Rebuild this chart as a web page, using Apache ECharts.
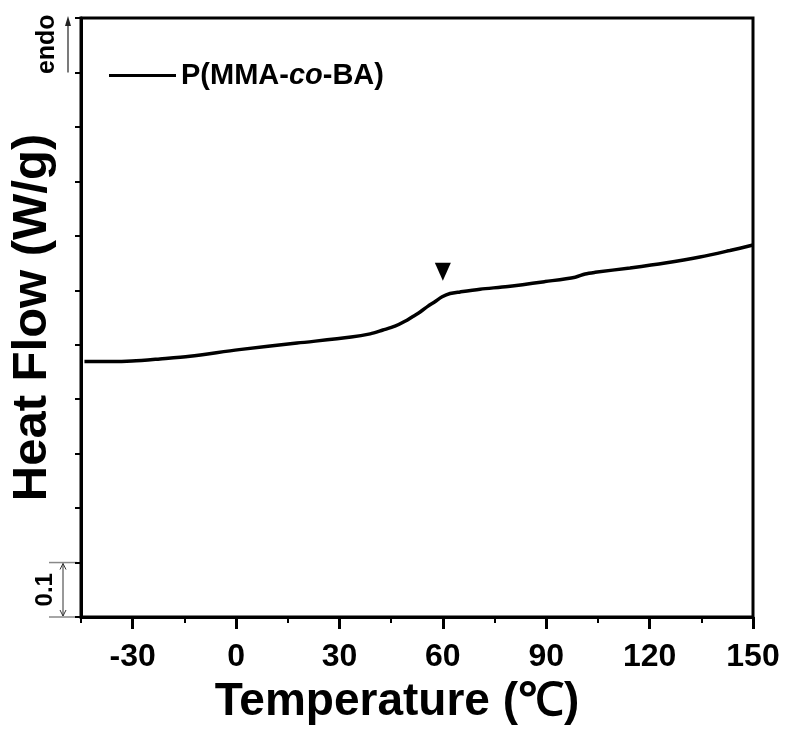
<!DOCTYPE html>
<html>
<head>
<meta charset="utf-8">
<script src="https://cdn.jsdelivr.net/npm/echarts@6/dist/echarts.min.js"></script>
<style>
  html, body { margin: 0; padding: 0; background: #fff; }
  #chart { width: 788px; height: 731px; }
</style>
</head>
<body>
<div id="chart"></div>
<script>
  // DSC trace: temperature (°C) and heat flow (W/g, arbitrary offset)
  const temps = [-44, -36.6, -30.2, -22.1, -13.4, 0.9, 17.7, 33.4, 38.9, 42.6, 46.1, 49.0,
    51.3, 53.4, 55.7, 57.7, 59.8, 62.1, 65.0, 70.8, 78.9, 89.7, 98.4, 101.3, 104.2,
    114.3, 124.5, 134.6, 143.3, 150];
  const heatFlow = [0.469, 0.469, 0.470, 0.474, 0.479, 0.491, 0.503, 0.514, 0.520, 0.527,
    0.534, 0.543, 0.552, 0.560, 0.571, 0.579, 0.588, 0.594, 0.597, 0.602, 0.607, 0.616,
    0.624, 0.630, 0.633, 0.641, 0.650, 0.661, 0.673, 0.683];

  // Tg marker (▼) position
  const tgMarker = [60, 0.634];

  const xLabelTicks = [-30, 0, 30, 60, 90, 120, 150];
  const seriesName = "P(MMA-co-BA)";

  // scale bar and endo arrow extents, in W/g
  const scaleBar = [0, 0.1];
  const endoArrow = [1.0, 1.1];

  const FONT = "'Liberation Sans', Arial, sans-serif";
  const chart = echarts.init(document.getElementById("chart"), null, { renderer: "canvas" });

  const xBase = {
    type: "value",
    min: -45,
    max: 150,
    splitLine: { show: false },
  };

  chart.setOption({
    backgroundColor: "#fff",
    animation: false,
    grid: {
      left: 81, right: 35, top: 18, bottom: 114,
      show: true, borderColor: "#000", borderWidth: 3,
    },
    legend: {
      left: 104,
      top: 56,
      icon: "rect",
      itemWidth: 67,
      itemHeight: 3,
      itemGap: 5,
      data: [seriesName],
      formatter: () => "{a|P(MMA-}{b|co}{a|-BA)}",
      textStyle: {
        rich: {
          a: { fontFamily: FONT, fontSize: 29, fontWeight: "bold", color: "#000" },
          b: { fontFamily: FONT, fontSize: 29, fontWeight: "bold", fontStyle: "italic", color: "#000" },
        },
      },
    },
    xAxis: [
      {
        ...xBase,
        interval: 15,
        axisLine: { show: true, onZero: false, lineStyle: { color: "#000", width: 3 } },
        axisTick: { show: true, inside: false, length: 6, lineStyle: { color: "#000", width: 2 } },
        axisLabel: { show: false },
      },
      {
        ...xBase,
        position: "bottom",
        axisLine: { show: false, onZero: false },
        axisTick: {
          show: true, inside: false, length: 12, customValues: xLabelTicks,
          lineStyle: { color: "#000", width: 3 },
        },
        axisLabel: {
          show: true, customValues: xLabelTicks, margin: 24,
          fontFamily: FONT, fontSize: 32, fontWeight: "bold", color: "#000",
        },
        name: "Temperature (℃)",
        nameLocation: "middle",
        nameGap: 62,
        nameTextStyle: {
          fontFamily: FONT, fontSize: 46, fontWeight: "bold", color: "#000",
          padding: [0, 40, 0, 0],
        },
      },
    ],
    yAxis: {
      type: "value",
      min: 0,
      max: 1.1,
      interval: 0.1,
      splitLine: { show: false },
      axisLine: { show: true, onZero: false, lineStyle: { color: "#000", width: 3 } },
      axisTick: { show: true, inside: false, length: 6, lineStyle: { color: "#000", width: 2 } },
      axisLabel: { show: false },
      name: "Heat Flow (W/g)",
      nameLocation: "middle",
      nameRotate: 90,
      nameGap: 24,
      nameTextStyle: { fontFamily: FONT, fontSize: 49, fontWeight: "bold", color: "#000" },
    },
    series: [
      {
        name: seriesName,
        type: "line",
        xAxisIndex: 0,
        smooth: 0.3,
        symbol: "none",
        color: "#000",
        lineStyle: { color: "#000", width: 3.5 },
        data: temps.map((t, i) => [t, heatFlow[i]]),
      },
      {
        name: "Tg",
        type: "scatter",
        xAxisIndex: 0,
        symbol: "triangle",
        symbolRotate: 180,
        symbolSize: [16, 18],
        itemStyle: { color: "#000", opacity: 1 },
        data: [tgMarker],
      },
    ],
  });

  // side annotations (endo arrow, 0.1 W/g scale bar), placed via the y scale
  const axisX = chart.convertToPixel({ xAxisIndex: 0 }, -45);
  const yPx = (v) => chart.convertToPixel({ yAxisIndex: 0 }, v);

  const eTop = yPx(endoArrow[1]);
  const eBot = yPx(endoArrow[0]);
  const sTop = yPx(scaleBar[1]);
  const sBot = yPx(scaleBar[0]);
  const ax = axisX - 13;   // endo arrow x
  const sx = axisX - 18;   // scale bar x

  chart.setOption({
    graphic: [
      // endo arrow
      { type: "line", shape: { x1: ax, y1: eBot, x2: ax, y2: eTop + 4 }, style: { stroke: "#222", lineWidth: 1.2 } },
      { type: "polygon", shape: { points: [[ax, eTop - 2], [ax - 3, eTop + 8], [ax + 3, eTop + 8]] }, style: { fill: "#222" } },
      {
        type: "text", x: ax - 21, y: (eTop + eBot) / 2 - 1, rotation: Math.PI / 2,
        style: {
          text: "endo", fontFamily: FONT, fontSize: 25, fontWeight: "bold", fill: "#000",
          align: "center", verticalAlign: "middle",
        },
      },
      // scale bar
      { type: "line", shape: { x1: axisX - 32, y1: sTop, x2: axisX - 4, y2: sTop }, style: { stroke: "#888", lineWidth: 1.5 } },
      { type: "line", shape: { x1: axisX - 32, y1: sBot, x2: axisX, y2: sBot }, style: { stroke: "#888", lineWidth: 1.5 } },
      { type: "line", shape: { x1: sx, y1: sTop + 1, x2: sx, y2: sBot - 1 }, style: { stroke: "#333", lineWidth: 1 } },
      { type: "polyline", shape: { points: [[sx - 3, sTop + 7], [sx, sTop + 1], [sx + 3, sTop + 7]] }, style: { stroke: "#333", lineWidth: 1 } },
      { type: "polyline", shape: { points: [[sx - 3, sBot - 7], [sx, sBot - 1], [sx + 3, sBot - 7]] }, style: { stroke: "#333", lineWidth: 1 } },
      {
        type: "text", x: sx - 18, y: (sTop + sBot) / 2, rotation: Math.PI / 2,
        style: {
          text: "0.1", fontFamily: FONT, fontSize: 24, fontWeight: "bold", fill: "#000",
          align: "center", verticalAlign: "middle",
        },
      },
    ],
  });

  window.addEventListener("resize", () => chart.resize());
</script>
</body>
</html>
